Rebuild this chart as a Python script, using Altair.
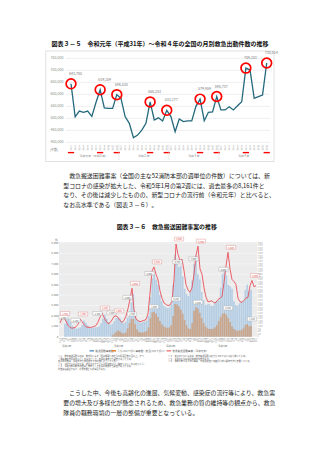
import altair as alt
import pandas as pd

JP = "Noto Sans CJK JP"

# ---------------- 図表3-5 data ----------------
title1 = "図表３－５　令和元年（平成31年）～令和４年の全国の月別救急出動件数の推移"
monthly_counts = [
    643780, 506000, 530000, 525000, 530000, 508000, 566000, 619259, 543000, 541000, 541000, 598530,
    583000, 507000, 479000, 419000, 430000, 451000, 479000, 568253, 493000, 502000, 489000, 533277,
    507000, 444000, 497000, 486000, 489000, 489000, 550000, 579959, 490000, 525000, 527000, 590737,
    535000, 535000, 548000, 535000, 552000, 569000, 709203, 701000, 583000, 590000, 597000, 730514,
]
peak_months = [0, 7, 11, 19, 23, 31, 35, 42, 47]
y1_ticks = [400000, 450000, 500000, 550000, 600000, 650000, 700000, 750000]
year_labels1 = ["令和元年（平成31年）", "令和２年", "令和３年", "令和４年"]
month_names = ["1", "2", "3", "4", "5", "6", "7", "8", "9", "10", "11", "12"]

# ---------------- body text ----------------
para1 = [
    "救急搬送困難事案（全国の主な52消防本部の週単位の件数）については、新",
    "型コロナの感染が拡大した、令和5年1月の第2週には、過去最多の8,161件と",
    "なり、その後は減少したものの、新型コロナの流行前（令和元年）と比べると、",
    "なお高水準である（図表３－６）。",
]
para2 = [
    "こうした中、今後も高齢化の進展、気候変動、感染症の流行等により、救急需",
    "要の増大及び多様化が懸念されるため、救急業務の質の維持等の観点から、救急",
    "隊員の職務環境の一層の整備が重要となっている。",
]

# ---------------- 図表3-6 data ----------------
title2 = "図表３－６　救急搬送困難事案の推移"
red_line = [
    1320, 1750, 1800, 1500, 1100, 900, 810, 860, 950, 1200,
    1700, 1450, 1150, 950, 900, 900, 920, 980, 1060, 1400,
    1870, 2280, 1850, 1500, 1250, 1350, 1600, 1950, 2000, 1870,
    1550, 1380, 1550, 2000, 2700, 3620, 4650, 2600, 1700, 1550,
    1440, 1500, 1560, 1650, 2200, 4200, 6300, 6700, 6000, 5450,
    4400, 3700, 3250, 3100, 2980, 3050, 3400, 5500, 8900, 7900,
    7310, 7450, 6350, 5000, 4500, 4270, 4700, 6000, 7800, 8700,
    6500, 6000, 4700, 3800, 3350, 3400, 3450, 3250, 3300, 3580,
    3700, 3850, 5200, 6800, 8100, 6510, 5500, 5300, 5000, 3700,
    3350, 3300, 3500, 3700, 3790, 4900, 5400, 4800, 4900,
]
blue_bars = [
    1250, 1650, 1700, 1400, 1050, 850, 780, 800, 900, 1100,
    1550, 1350, 1100, 900, 850, 870, 880, 930, 1000, 1300,
    1750, 2100, 1750, 1400, 1150, 1250, 1500, 1800, 1850, 1750,
    1450, 1300, 1450, 1850, 2450, 3300, 4100, 2400, 1600, 1450,
    1350, 1400, 1450, 1550, 2000, 3800, 5600, 6000, 5500, 5000,
    4000, 3400, 3000, 2850, 2750, 2800, 3100, 5000, 7900, 7200,
    6700, 6800, 5800, 4600, 4100, 3900, 4300, 5400, 7000, 7800,
    6000, 5500, 4300, 3500, 3050, 3100, 3150, 2950, 3000, 3250,
    3400, 3500, 4700, 6000, 6300, 5900, 5000, 4850, 4600, 3400,
    3050, 3000, 3200, 3350, 3450, 4500, 5000, 4400, 4500,
]
orange_bars = [
    0, 0, 0, 0, 0, 0, 0, 0, 0, 0,
    0, 0, 0, 0, 0, 0, 0, 0, 0, 0,
    0, 0, 0, 0, 0, 150, 300, 450, 600, 500,
    350, 300, 400, 800, 1300, 1700, 1700, 1200, 700, 450,
    400, 400, 450, 550, 900, 1800, 2350, 2400, 2200, 1900,
    1500, 1200, 1000, 900, 850, 900, 1100, 2000, 3150, 3100,
    2900, 2600, 2200, 1600, 1100, 800, 740, 1300, 2500, 2830,
    2700, 2300, 1800, 1300, 1000, 800, 740, 740, 760, 900,
    1100, 1500, 1900, 2200, 2280, 2100, 1800, 1400, 1000, 750,
    600, 580, 600, 650, 800, 1100, 1220, 1000, 1050,
]
red_callouts = [1, 10, 21, 28, 36, 47, 58, 69, 84, 96]
orange_callouts = [36, 47, 58, 69, 84, 96]
blue_callouts = [3, 9, 20, 27, 35, 46, 60, 68, 83]
y2_ticks = [0, 1000, 2000, 3000, 4000, 5000, 6000, 7000, 8000, 9000]
right_ticks = list(range(0, 9001, 250))
legend2 = ["搬送困難事案数", "うちコロナ疑い事案数（新型コロナ疑い）", "救急搬送困難事案（令和元年）"]
notes_left = [
    "※１　救急搬送困難事案は、救急隊による「医療機関への受入れ照会回数４回以上」かつ",
    "　　「現場滞在時間30分以上」の事案として、各消防本部から報告があったもの。",
    "　　各週の件数は、月曜日から日曜日までの件数を計上している。",
    "※２　コロナ疑い事案とは、新型コロナウイルス感染症疑い（確定を含む）の事案をいう。",
    "※３　令和元年同期の件数は、参考として各消防本部から報告があったもの。",
    "　　件数は速報値であり、今後変更となる場合がある。",
]
notes_right = [
    "※４　非コロナ疑い事案は、救急搬送困難事案からコロナ疑い事案を除いたもの。",
    "※５　全国の主な52消防本部の件数である。",
    "※６　令和５年５月８日以降は、５類感染症への移行に伴い調査方法を変更している。",
]

# ---------------- helpers ----------------
one = pd.DataFrame({"k": [0]})


def label(text, x, y, size, color="#333333", weight="normal", align="left", baseline="middle"):
    return alt.Chart(one).mark_text(
        font=JP, fontSize=size, color=color, fontWeight=weight, align=align, baseline=baseline
    ).encode(x=alt.value(x), y=alt.value(y), text=alt.value(text))


def rect(x, x2, y, y2, fill=None, stroke=None, sw=0.6):
    kw = {}
    if fill:
        kw["fill"] = fill
    else:
        kw["fillOpacity"] = 0
    if stroke:
        kw["stroke"] = stroke
        kw["strokeWidth"] = sw
    return alt.Chart(one).mark_rect(**kw).encode(
        x=alt.value(x), x2=alt.value(x2), y=alt.value(y), y2=alt.value(y2)
    )


layers = []

# ================= 図表3-5 =================
x1 = alt.Scale(domain=[0, 47], range=[71, 266.7], nice=False, zero=False)
y1 = alt.Scale(domain=[400000, 750000], range=[142.3, 58.3], nice=False, zero=False)

layers.append(label(title1, 160, 44, 6.0, "#111111", "bold", "center"))
layers.append(rect(45.7, 274, 51, 161.5, stroke="#d4d4d4", sw=0.7))

df_y1 = pd.DataFrame({"v": y1_ticks, "lab": [f"{v:,}" for v in y1_ticks]})
layers.append(
    alt.Chart(df_y1).mark_rule(color="#e2e2e2", strokeWidth=0.6).encode(
        x=alt.value(66), x2=alt.value(270), y=alt.Y("v:Q", scale=y1, axis=None)
    )
)
layers.append(
    alt.Chart(df_y1).mark_text(font=JP, fontSize=3.6, color="#8a8a8a", align="right").encode(
        x=alt.value(63.5), y=alt.Y("v:Q", scale=y1, axis=None), text="lab:N"
    )
)

df1 = pd.DataFrame({"m": list(range(48)), "c": monthly_counts})
layers.append(
    alt.Chart(df1).mark_line(color="#24697c", strokeWidth=1.3).encode(
        x=alt.X("m:Q", scale=x1, axis=None), y=alt.Y("c:Q", scale=y1, axis=None)
    )
)

df_pk = pd.DataFrame({
    "m": peak_months,
    "c": [monthly_counts[m] for m in peak_months],
    "lab": [f"{monthly_counts[m]:,}" for m in peak_months],
})
layers.append(
    alt.Chart(df_pk).mark_point(shape="circle", size=95, filled=False, color="#ff0000", strokeWidth=1.7, opacity=1).encode(
        x=alt.X("m:Q", scale=x1, axis=None), y=alt.Y("c:Q", scale=y1, axis=None)
    )
)
layers.append(
    alt.Chart(df_pk).mark_text(font=JP, fontSize=3.6, color="#7a7a7a", align="left", dx=-2, dy=-10).encode(
        x=alt.X("m:Q", scale=x1, axis=None), y=alt.Y("c:Q", scale=y1, axis=None), text="lab:N"
    )
)

df_ml = pd.DataFrame({"m": list(range(48)), "lab": [month_names[m % 12] + "\n月" for m in range(48)]})
layers.append(
    alt.Chart(df_ml).mark_text(font=JP, fontSize=2.3, lineHeight=2.7, lineBreak="\n", color="#9a9a9a", baseline="top").encode(
        x=alt.X("m:Q", scale=x1, axis=None), y=alt.value(145.2), text="lab:N"
    )
)
layers.append(
    alt.Chart(df_pk).transform_calculate(a="datum.m - 0.75", b="datum.m + 0.75").mark_rule(
        color="#ff0000", strokeWidth=1.4
    ).encode(x=alt.X("a:Q", scale=x1, axis=None), x2="b:Q", y=alt.value(152.6))
)
df_sep = pd.DataFrame({"s": [12 * k - 0.5 for k in range(1, 4)]})
layers.append(
    alt.Chart(df_sep).mark_rule(color="#d8d8d8", strokeWidth=0.5).encode(
        x=alt.X("s:Q", scale=x1, axis=None), y=alt.value(144.5), y2=alt.value(160)
    )
)
df_yl = pd.DataFrame({"c": [12 * k + 5.5 for k in range(4)], "lab": year_labels1})
layers.append(
    alt.Chart(df_yl).mark_text(font=JP, fontSize=2.8, color="#8a8a8a").encode(
        x=alt.X("c:Q", scale=x1, axis=None), y=alt.value(156.3), text="lab:N"
    )
)
layers.append(label("(件数)", 50, 150, 3.0, "#8a8a8a"))

# ================= body text 1 =================
for k, line in enumerate(para1):
    layers.append(label(line, 69.2 if k == 0 else 63.3, 175.8 + 9.75 * k, 5.9, "#222222"))

layers.append(label(title2, 166.7, 226.7, 5.9, "#111111", "bold", "center"))

# ================= 図表3-6 =================
x2s = alt.Scale(domain=[0, 98], range=[60, 256], nice=False, zero=False)
y2s = alt.Scale(domain=[0, 9000], range=[336.7, 243], nice=False)

layers.append(rect(59, 257, 242, 336.7, fill="#ececec"))
df_y2 = pd.DataFrame({"v": y2_ticks, "lab": [f"{v:,}" for v in y2_ticks]})
layers.append(
    alt.Chart(df_y2).mark_rule(color="#fafafa", strokeWidth=0.5).encode(
        x=alt.value(59), x2=alt.value(257), y=alt.Y("v:Q", scale=y2s, axis=None)
    )
)
layers.append(
    alt.Chart(df_y2).mark_text(font=JP, fontSize=2.8, color="#777777", align="right").encode(
        x=alt.value(58.3), y=alt.Y("v:Q", scale=y2s, axis=None), text="lab:N"
    )
)
layers.append(label("件", 55, 239.8, 2.8, "#777777"))

dates = pd.date_range("2019-12-23", periods=len(red_line), freq="14D")
df2 = pd.DataFrame({
    "i": list(range(len(red_line))),
    "red": red_line,
    "blue": blue_bars,
    "orange": orange_bars,
    "d": [f"{d.month}/{d.day}" for d in dates],
})
layers.append(
    alt.Chart(df2).mark_bar(size=1.7, color="#b6cee4").encode(
        x=alt.X("i:Q", scale=x2s, axis=None), y=alt.Y("blue:Q", scale=y2s, axis=None)
    )
)
layers.append(
    alt.Chart(df2).mark_bar(size=1.7, color="#c8a58b").encode(
        x=alt.X("i:Q", scale=x2s, axis=None), y=alt.Y("orange:Q", scale=y2s, axis=None)
    )
)
layers.append(
    alt.Chart(df2).mark_line(color="#e9505a", strokeWidth=0.9).encode(
        x=alt.X("i:Q", scale=x2s, axis=None), y=alt.Y("red:Q", scale=y2s, axis=None)
    )
)

BOX = "M-1,-0.42L1,-0.42L1,0.42L-1,0.42Z"


def callouts(idx, series, txtcolor, stroke, dx, dy):
    d = pd.DataFrame({"i": idx, "v": [series[i] for i in idx], "lab": [f"{series[i]:,}" for i in idx]})
    b = alt.Chart(d).mark_point(shape=BOX, size=85, filled=True, fill="#ffffff", stroke=stroke,
                                strokeWidth=0.4, opacity=1, xOffset=dx, yOffset=dy).encode(
        x=alt.X("i:Q", scale=x2s, axis=None), y=alt.Y("v:Q", scale=y2s, axis=None))
    t = alt.Chart(d).mark_text(font=JP, fontSize=2.2, color=txtcolor, dx=dx, dy=dy).encode(
        x=alt.X("i:Q", scale=x2s, axis=None), y=alt.Y("v:Q", scale=y2s, axis=None), text="lab:N")
    return [b, t]


layers += callouts(blue_callouts, blue_bars, "#555555", "#999999", -2.5, -5)
layers += callouts(red_callouts, red_line, "#e04040", "#e08080", 3, -5)
layers += callouts(orange_callouts, orange_bars, "#555555", "#aaaaaa", 0, -5)

# right column of tiny labels
df_r = pd.DataFrame({"v": right_ticks, "lab": [f"{v:,}" for v in right_ticks]})
layers.append(
    alt.Chart(df_r).mark_text(font=JP, fontSize=2.0, color="#9a9a9a", align="left").encode(
        x=alt.value(257.5), y=alt.Y("v:Q", scale=y2s, axis=None), text="lab:N")
)

# x tick labels
layers.append(
    alt.Chart(df2).mark_text(font=JP, fontSize=1.9, color="#888888", angle=270, align="right").encode(
        x=alt.X("i:Q", scale=x2s, axis=None), y=alt.value(338), text="d:N")
)
yr_rows = [(i, d.year) for i, d in enumerate(dates) if i > 0 and d.year != dates[i - 1].year]
df_yr = pd.DataFrame({"i": [r[0] for r in yr_rows], "lab": [f"令和{r[1] - 2018}年" for r in yr_rows]})
layers.append(
    alt.Chart(df_yr).mark_text(font=JP, fontSize=2.6, color="#777777", align="left").encode(
        x=alt.X("i:Q", scale=x2s, axis=None), y=alt.value(346.3), text="lab:N")
)

# legend
leg_x = [89.5, 111.5, 166.5]
leg_col = ["#6f9fd0", "#e8873a", "#f08a8a"]
for k in range(3):
    layers.append(rect(leg_x[k], leg_x[k] + 4.5, 350.0, 351.6, fill=leg_col[k]))
    layers.append(label(legend2[k], leg_x[k] + 5.8, 350.8, 2.6, "#666666"))

# notes
for k, line in enumerate(notes_left):
    layers.append(label(line, 58, 356.5 + 2.6 * k, 2.15, "#555555"))
for k, line in enumerate(notes_right):
    layers.append(label(line, 168, 356.5 + 2.6 * k, 2.15, "#555555"))

# ================= body text 2 =================
for k, line in enumerate(para2):
    layers.append(label(line, 69.2 if k == 0 else 63.3, 393.3 + 10.0 * k, 5.9, "#222222"))

chart = (
    alt.layer(*layers)
    .resolve_scale(x="independent", y="independent")
    .properties(width=320, height=453, autosize=alt.AutoSizeParams(type="none"), padding=0, background="white")
    .configure_view(stroke=None)
)
chart.save("out.html", embed_options={"renderer": "svg", "actions": False})
